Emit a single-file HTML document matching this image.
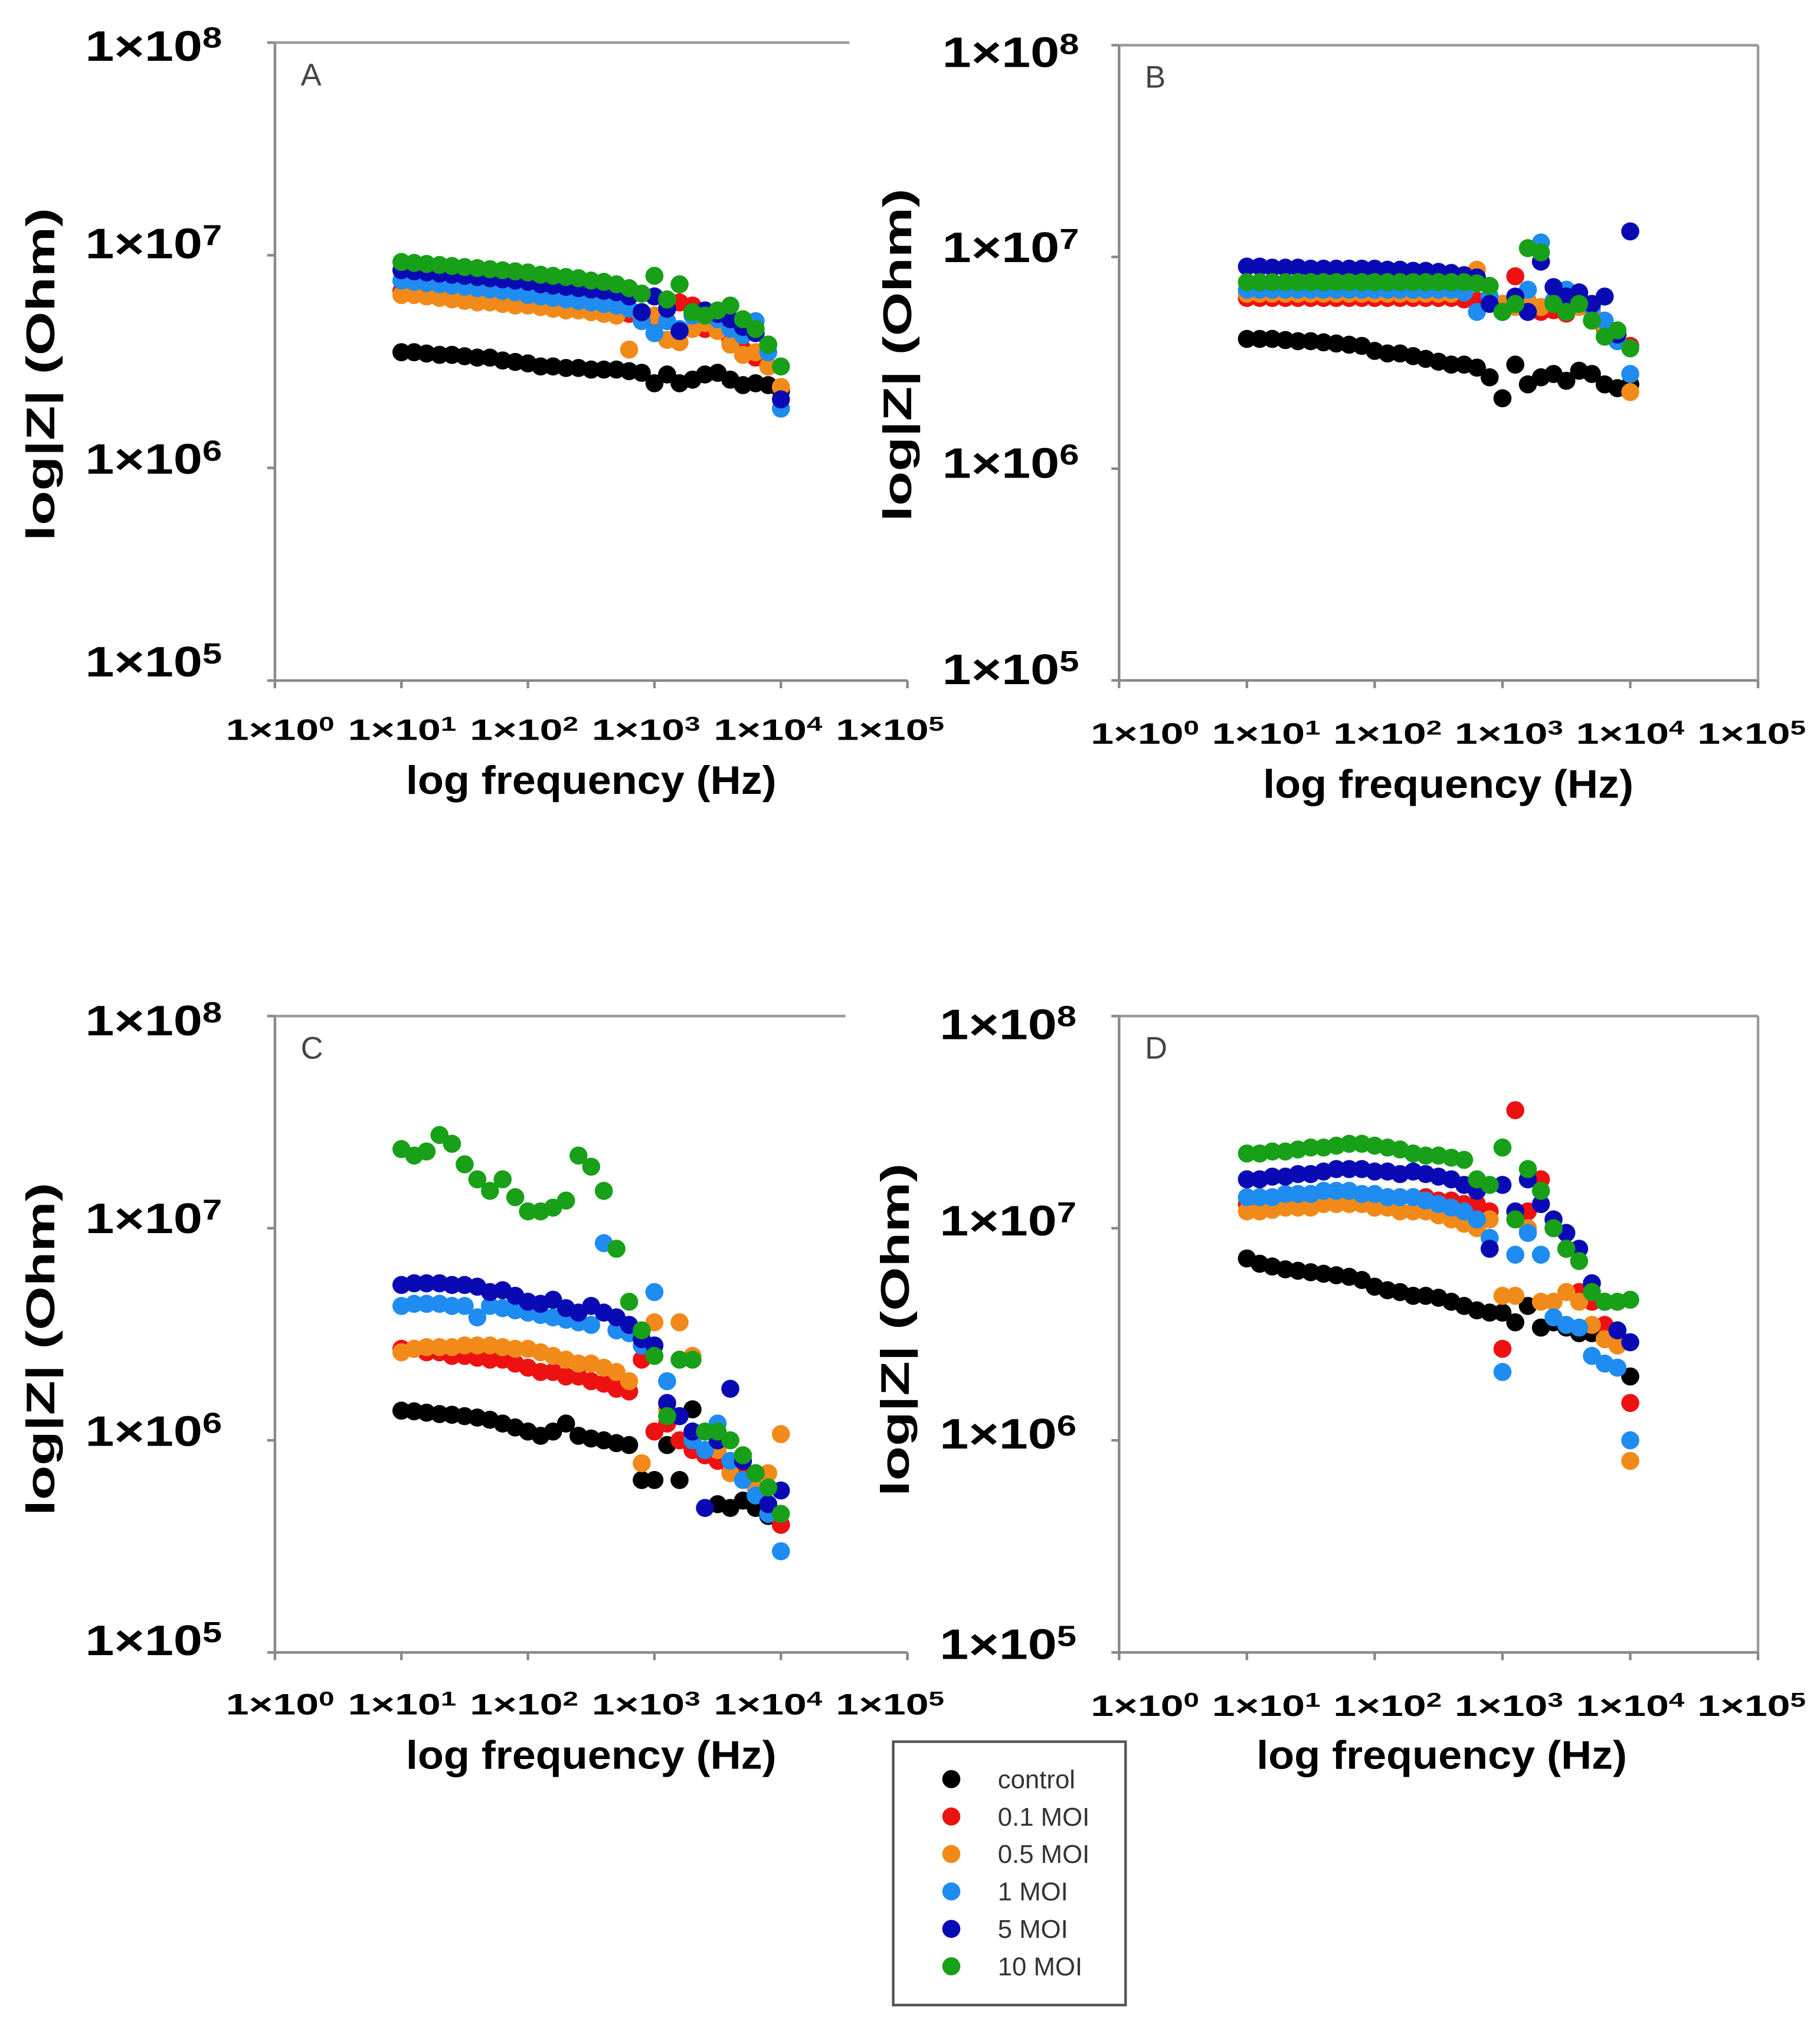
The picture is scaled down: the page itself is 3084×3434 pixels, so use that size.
<!DOCTYPE html>
<html><head><meta charset="utf-8">
<style>
html,body{margin:0;padding:0;background:#fff;}
svg{display:block;}
.yl{font-family:"Liberation Sans",sans-serif;font-weight:bold;font-size:33px;fill:#000;}
.xl{font-family:"Liberation Sans",sans-serif;font-weight:bold;font-size:23px;fill:#000;}
.tt{font-family:"Liberation Sans",sans-serif;font-weight:bold;font-size:31px;fill:#000;}
.pl{font-family:"Liberation Sans",sans-serif;font-size:24px;fill:#444;}
.lg{font-family:"Liberation Sans",sans-serif;font-size:20px;fill:#333;}
</style></head>
<body>
<svg id="fig" xmlns="http://www.w3.org/2000/svg" width="3084" height="3434" viewBox="0 0 1410 1570" preserveAspectRatio="none">
<rect x="0" y="0" width="1410" height="1570" fill="#fff"/>
</svg>
<script>
const freqs = [10,12.6,15.8,20,25.1,31.6,39.8,50.1,63.1,79.4,100,126,158,200,251,316,398,501,631,794,1000,1260,1580,2000,2510,3160,3980,5010,6310,7940,10000];
const seriesNames = ["control","0.1 MOI","0.5 MOI","1 MOI","5 MOI","10 MOI"];
const seriesColors = ["#000000","#ee1111","#f28a1a","#1e8cf0","#0a0ab4","#18a018"];
// values in units of 1e6 Ohm
const A_control = [3.5,3.5,3.45,3.4,3.4,3.35,3.3,3.3,3.2,3.15,3.1,3.0,3.0,2.95,2.95,2.9,2.9,2.9,2.85,2.8,2.5,2.75,2.5,2.6,2.75,2.8,2.6,2.45,2.5,2.45,2.3];
const A_red = [6.8,6.7,6.6,6.5,6.4,6.3,6.2,6.1,6.0,6.0,5.9,5.8,5.7,5.6,5.6,5.5,5.4,5.4,5.3,5.2,5.0,5.6,6.0,5.8,4.5,4.8,4.0,3.6,3.3,3.0,2.4];
const A_orange = [6.5,6.5,6.4,6.3,6.2,6.1,6.0,6.0,5.9,5.8,5.8,5.7,5.6,5.5,5.5,5.4,5.3,5.2,3.6,5.0,5.2,4.0,3.9,4.5,4.8,4.4,3.8,3.4,3.5,3.0,2.4];
const A_lightblue = [7.6,7.5,7.4,7.3,7.2,7.1,7.0,6.9,6.8,6.7,6.5,6.4,6.3,6.2,6.1,6.0,5.9,5.8,5.6,4.9,4.3,4.9,4.5,5.2,5.4,5.0,4.5,4.2,4.9,3.5,1.9];
const A_blue = [8.5,8.4,8.3,8.2,8.1,8.0,7.9,7.8,7.7,7.6,7.5,7.3,7.2,7.1,7.0,6.9,6.8,6.7,6.4,5.4,6.4,5.6,4.4,5.4,5.5,5.3,5.0,4.6,4.3,3.8,2.1];
const A_green = [9.3,9.2,9.1,9.0,8.9,8.8,8.7,8.6,8.5,8.4,8.3,8.1,8.0,7.9,7.8,7.6,7.5,7.3,7.0,6.6,8.0,6.2,7.3,5.4,5.2,5.5,5.8,5.0,4.5,3.8,3.0];

const B_control = [4.1,4.1,4.1,4.05,4.0,4.0,3.95,3.9,3.85,3.8,3.6,3.5,3.5,3.4,3.3,3.2,3.1,3.1,3.0,2.7,2.15,3.1,2.5,2.7,2.8,2.6,2.9,2.8,2.5,2.4,2.5];
const B_red = [6.4,6.4,6.4,6.4,6.4,6.4,6.4,6.4,6.4,6.4,6.4,6.4,6.4,6.4,6.4,6.4,6.4,6.3,6.2,6.3,6.0,8.1,5.5,5.5,5.6,5.4,6.0,5.5,4.6,4.3,3.8];
const B_orange = [6.7,6.7,6.7,6.7,6.7,6.7,6.7,6.7,6.7,6.7,6.7,6.7,6.7,6.7,6.7,6.7,6.7,6.8,8.7,6.5,6.0,5.8,6.2,5.8,6.0,5.5,5.8,5.5,4.7,4.0,2.3];
const B_lightblue = [7.0,7.0,7.0,7.0,7.0,7.0,7.0,7.0,7.0,7.0,7.0,7.0,7.0,7.0,7.0,7.0,7.0,6.8,5.5,6.5,5.5,6.0,7.0,11.7,6.2,7.0,6.5,5.8,5.0,4.0,2.8];
const B_blue = [9.0,9.0,8.9,8.9,8.9,8.8,8.8,8.8,8.8,8.8,8.8,8.7,8.7,8.6,8.6,8.5,8.4,8.2,8.0,6.0,5.5,6.5,5.5,9.5,7.2,6.5,6.8,6.0,6.5,4.3,13.2];
const B_green = [7.6,7.6,7.6,7.6,7.6,7.6,7.6,7.6,7.6,7.6,7.6,7.6,7.6,7.6,7.6,7.6,7.6,7.6,7.5,7.3,5.5,6.0,11.0,10.5,6.0,5.5,6.0,5.0,4.2,4.5,3.7];

const C_control = [1.38,1.37,1.35,1.33,1.32,1.3,1.28,1.25,1.2,1.15,1.1,1.05,1.1,1.2,1.05,1.02,1.0,0.97,0.95,0.65,0.65,0.95,0.65,1.4,0.9,0.5,0.48,0.52,0.48,0.44,0.40];
const C_red = [2.7,2.7,2.6,2.6,2.5,2.5,2.45,2.4,2.4,2.3,2.2,2.1,2.1,2.0,2.0,1.9,1.85,1.75,1.7,2.4,1.1,1.2,1.0,0.9,0.85,0.8,0.75,0.7,0.6,0.5,0.4];
const C_orange = [2.6,2.7,2.75,2.75,2.75,2.8,2.8,2.8,2.75,2.7,2.7,2.6,2.5,2.4,2.3,2.3,2.2,2.1,1.9,0.78,3.6,1.4,3.6,2.5,1.1,0.9,0.7,0.85,0.6,0.7,1.07];
const C_lightblue = [4.3,4.4,4.4,4.4,4.3,4.3,3.8,4.3,4.2,4.1,4.0,3.9,3.8,3.7,3.6,3.5,8.5,3.3,3.2,2.8,5.0,1.9,1.3,1.0,0.9,1.2,0.8,0.65,0.55,0.45,0.3];
const C_blue = [5.4,5.5,5.5,5.5,5.4,5.4,5.3,5.0,5.1,4.8,4.5,4.4,4.6,4.2,4.0,4.3,4.0,3.8,3.5,3.0,2.8,1.5,1.3,1.1,0.48,1.0,1.75,0.8,0.7,0.5,0.58];
const C_green = [23.6,22,23,27.5,25,20,17,15,17,14,12,12,12.5,13.5,22,19.5,15,8,4.5,3.3,2.5,1.3,2.4,2.4,1.1,1.1,1.0,0.85,0.7,0.6,0.45];

const D_control = [7.2,6.8,6.6,6.4,6.3,6.2,6.1,6.0,5.9,5.7,5.3,5.1,5.0,4.8,4.8,4.7,4.5,4.3,4.1,4.0,4.0,3.6,4.3,3.4,3.6,3.4,3.2,3.2,3.0,3.1,2.0];
const D_red = [13,13,13,13.5,13.5,13.5,14,14,14,14,14,14,14,14,14,13.5,13.5,13,13,12,2.7,36,12,17,10,8,5,4.5,3.5,3,1.5];
const D_orange = [12,12,12.2,12.5,12.5,12.5,13,13,13,13,12.5,12.5,12,12,12,11.5,11,10.5,10,11,4.8,4.8,10,4.5,4.5,5,4.5,3.5,3,2.8,0.8];
const D_lightblue = [14,14,14,14.5,14.5,14.5,15,15,15,14.5,14.5,14,14,14,13.5,13,12.5,12,11,9,2.1,7.5,9.5,7.5,3.8,3.5,3.4,2.5,2.3,2.2,1.0];
const D_blue = [17,17,17.5,17.5,18,18,18.5,19,19,19,18.5,18.5,18,18.5,18,17.5,17,16,15,8,16,12,17,13,11,9.5,8,5.5,4.5,3.3,2.9];
const D_green = [22.5,22.5,23,23,23.5,24,24,24.5,25,25,24.5,24,23.5,22.5,22,22,21.5,21,17,16,24,11,19,15,10,8,7,5,4.5,4.5,4.6];

const xTickExps = [0,1,2,3,4,5];
const yTickExps = [8,7,6,5];

const NS = "http://www.w3.org/2000/svg";
const svg = document.getElementById("fig");
function mk(tag, attrs, parent){
  const e = document.createElementNS(NS, tag);
  for (const k in attrs) e.setAttribute(k, attrs[k]);
  (parent||svg).appendChild(e);
  return e;
}
function sciLabel(t, exp){
  t.appendChild(document.createTextNode("1×10"));
  const s = document.createElementNS(NS, "tspan");
  s.setAttribute("dy", "-0.45em");
  s.setAttribute("font-size", "0.68em");
  s.textContent = exp;
  t.appendChild(s);
}

const panels = [
  {id:"a", letter:"A", x0:213, xd:98, y8:33, yd:164.7, right:null, topEnd:658, offA:4, offB:-3.5,
   yLabX:172, yLabY:[47,200,367,524], xLabY:573, tX:458, tY:615, yTitleX:42, yTitleY:290,
   data:[A_control,A_red,A_orange,A_lightblue,A_blue,A_green]},
  {id:"b", letter:"B", x0:867, xd:99, y8:35, yd:164, right:1362, topEnd:1362, offA:20, offB:-5,
   yLabX:836, yLabY:[52,203,370,530], xLabY:576, tX:1122, tY:618, yTitleX:706, yTitleY:275,
   data:[B_control,B_red,B_orange,B_lightblue,B_blue,B_green]},
  {id:"c", letter:"C", x0:213, xd:98, y8:787, yd:164.3, right:null, topEnd:655, offA:4, offB:-3.5,
   yLabX:172, yLabY:[802,955,1120,1282], xLabY:1328, tX:458, tY:1370, yTitleX:42, yTitleY:1045,
   data:[C_control,C_red,C_orange,C_lightblue,C_blue,C_green]},
  {id:"d", letter:"D", x0:867, xd:99, y8:787, yd:164.3, right:1362, topEnd:1362, offA:20, offB:-5,
   yLabX:834, yLabY:[805,957,1122,1285], xLabY:1329, tX:1117, tY:1370, yTitleX:704, yTitleY:1030,
   data:[D_control,D_red,D_orange,D_lightblue,D_blue,D_green]}
];

panels.forEach(p => {
  const xS = f => p.x0 + p.xd*Math.log10(f);
  const yS = v => p.y8 + p.yd*(8 - Math.log10(v*1e6));
  const bottom = yS(0.1);
  const g = mk("g", {});
  
  
  const ax = mk("line", {x1:p.x0, y1:p.y8, x2:p.x0, y2:bottom, stroke:"#888", "stroke-width":2}, g);
  
  
  const bx = mk("line", {x1:p.x0, y1:bottom, x2:xS(1e5), y2:bottom, stroke:"#888", "stroke-width":2}, g);
  
  
  const tl = mk("line", {x1:p.x0, y1:p.y8, x2:p.topEnd, y2:p.y8, stroke:"#999", "stroke-width":2}, g);
  
  
  if (p.right){
    const rl = mk("line", {x1:p.right, y1:p.y8, x2:p.right, y2:bottom, stroke:"#999", "stroke-width":2}, g);
    
    
  }
  xTickExps.forEach(e => {
    const x = xS(Math.pow(10,e));
    const tk = mk("line", {x1:x, y1:bottom, x2:x, y2:bottom+6, stroke:"#888", "stroke-width":2}, g);
    
    
    const t = mk("text", {x:x + p.offA + p.offB*e, y:p.xLabY, "text-anchor":"middle", class:"xl", textLength:84, lengthAdjust:"spacingAndGlyphs"}, g);
    
    
    sciLabel(t, e);
  });
  yTickExps.forEach((e,i) => {
    const y = p.y8 + p.yd*(8-e);
    const tk = mk("line", {x1:p.x0-6, y1:y, x2:p.x0, y2:y, stroke:"#888", "stroke-width":2}, g);
    
    
    const t = mk("text", {x:p.yLabX, y:p.yLabY[i], "text-anchor":"end", class:"yl", textLength:106, lengthAdjust:"spacingAndGlyphs"}, g);
    
    
    sciLabel(t, e);
  });
  const lt = mk("text", {x:p.x0+20, y:p.y8+33, class:"pl"}, g);
  
  
  lt.textContent = p.letter;
  const xt = mk("text", {x:p.tX, y:p.tY, "text-anchor":"middle", class:"tt", textLength:287, lengthAdjust:"spacingAndGlyphs"}, g);
  
  
  xt.textContent = "log frequency (Hz)";
  const yt = mk("text", {x:p.yTitleX, y:p.yTitleY, "text-anchor":"middle", class:"tt", transform:`rotate(-90 ${p.yTitleX} ${p.yTitleY})`, "font-size":"37", textLength:258, lengthAdjust:"spacingAndGlyphs"}, g);
  
  
  yt.textContent = "log|Z| (Ohm)";
  p.data.forEach((vals, si) => {
    const sg = mk("g", {fill:seriesColors[si]}, g);
    
    
    vals.forEach((v, i) => {
      const c = mk("circle", {cx:xS(freqs[i]), cy:yS(v), r:7}, sg);
      
      
    });
  });
});

const lg = mk("g", {});


mk("rect", {x:692, y:1349, width:180, height:204, fill:"#fff", stroke:"#555", "stroke-width":2}, lg);
seriesNames.forEach((n, i) => {
  const y = 1378 + i*29;
  const c = mk("circle", {cx:737, cy:y, r:7, fill:seriesColors[i]}, lg);
  
  
  const t = mk("text", {x:773, y:y+7, class:"lg"}, lg);
  
  
  t.textContent = n;
});
</script>
</body></html>
